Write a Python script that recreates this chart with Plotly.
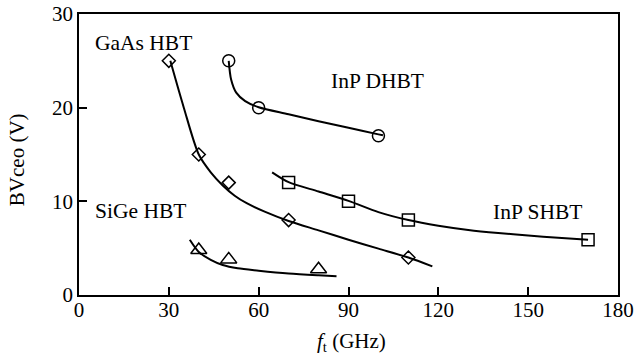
import plotly.graph_objects as go

# Measured points (f_t in GHz, BVceo in V)
gaas_ft = [30, 40, 50, 70, 110]
gaas_bv = [25, 15, 12, 8, 4]
dhbt_ft = [50, 60, 100]
dhbt_bv = [25, 20, 17]
shbt_ft = [70, 90, 110, 170]
shbt_bv = [12, 10, 8, 5.9]
sige_ft = [40, 50, 80]
sige_bv = [4.8, 3.8, 2.75]

# Trend curves
gaas_curve_ft = [30.5, 35, 40, 44, 48, 52, 56, 62, 70, 80, 90, 100, 110, 118]
gaas_curve_bv = [25, 20, 15, 13.1, 11.7, 10.6, 9.8, 8.9, 7.9, 6.9, 5.9, 4.95, 4.0, 3.05]
dhbt_curve_ft = [50, 50.8, 52.5, 55.5, 60, 70, 80, 90, 100, 101.5]
dhbt_curve_bv = [25, 23.0, 21.6, 20.7, 20.05, 19.3, 18.55, 17.85, 17.15, 17.05]
shbt_curve_ft = [64.5, 70, 80, 90, 100, 110, 120, 130, 140, 150, 160, 170]
shbt_curve_bv = [13.1, 12.05, 11.05, 10.05, 8.85, 8.0, 7.4, 6.95, 6.62, 6.35, 6.1, 5.9]
sige_curve_ft = [37, 40, 44, 48, 53, 60, 70, 80, 86]
sige_curve_bv = [5.9, 4.6, 3.75, 3.2, 2.85, 2.6, 2.3, 2.1, 2.0]

labels = ["GaAs HBT", "InP DHBT", "InP SHBT", "SiGe HBT"]
label_ft = [21.7, 99.7, 153.2, 20.7]
label_bv = [26.9, 22.8, 8.86, 9.0]

x_ticks = [0, 30, 60, 90, 120, 150, 180]
y_ticks = [0, 10, 20, 30]

FONT = "Liberation Serif, Times New Roman, serif"

fig = go.Figure()

for cx, cy in [(gaas_curve_ft, gaas_curve_bv), (dhbt_curve_ft, dhbt_curve_bv),
               (shbt_curve_ft, shbt_curve_bv), (sige_curve_ft, sige_curve_bv)]:
    fig.add_trace(go.Scatter(x=cx, y=cy, mode="lines",
                             line=dict(color="black", width=2, shape="spline", smoothing=0.8),
                             hoverinfo="skip", showlegend=False))

for mx, my, sym, sz in [(gaas_ft, gaas_bv, "diamond-open", 10),
                        (dhbt_ft, dhbt_bv, "circle-open", 12),
                        (shbt_ft, shbt_bv, "square-open", 12),
                        (sige_ft, sige_bv, "triangle-up-open", 14)]:
    fig.add_trace(go.Scatter(x=mx, y=my, mode="markers",
                             marker=dict(symbol=sym, size=sz, color="black",
                                         line=dict(color="black", width=1.5)),
                             showlegend=False))

for t, lx, ly in zip(labels, label_ft, label_bv):
    fig.add_annotation(x=lx, y=ly, text=t, showarrow=False,
                       font=dict(family=FONT, size=21.5, color="black"),
                       xanchor="center", yanchor="middle")

# Axis titles
fig.add_annotation(xref="paper", yref="paper", x=0.505, y=-0.168,
                   text="<i>f</i><sub>t</sub> (GHz)", showarrow=False,
                   font=dict(family=FONT, size=21, color="black"),
                   xanchor="center", yanchor="middle")
fig.add_annotation(xref="paper", yref="paper", x=-0.115, y=0.48,
                   text="BVceo (V)", showarrow=False, textangle=-90,
                   font=dict(family=FONT, size=21, color="black"),
                   xanchor="center", yanchor="middle")

fig.update_layout(
    width=634, height=355,
    margin=dict(l=79, r=16, t=14, b=60),
    plot_bgcolor="white", paper_bgcolor="white",
    font=dict(family=FONT, size=21, color="black"),
    showlegend=False,
)
fig.update_xaxes(range=[0, 180], tickvals=x_ticks, ticktext=[str(v) for v in x_ticks],
                 ticks="inside", ticklen=8, tickwidth=1.5, tickcolor="black",
                 showline=True, linecolor="black", linewidth=1.5, mirror=True,
                 showgrid=False, zeroline=False, automargin=False,
                 ticklabelstandoff=-5,
                 tickfont=dict(family=FONT, size=21))
fig.update_yaxes(range=[0, 30], tickvals=y_ticks, ticktext=[str(v) for v in y_ticks],
                 ticks="inside", ticklen=8, tickwidth=1.5, tickcolor="black",
                 showline=True, linecolor="black", linewidth=1.5, mirror=True,
                 showgrid=False, zeroline=False, automargin=False,
                 tickfont=dict(family=FONT, size=21))

fig.write_html("out.html",
               config={"displayModeBar": False},
               post_script="document.body.style.margin='0';document.body.style.overflow='hidden';")
